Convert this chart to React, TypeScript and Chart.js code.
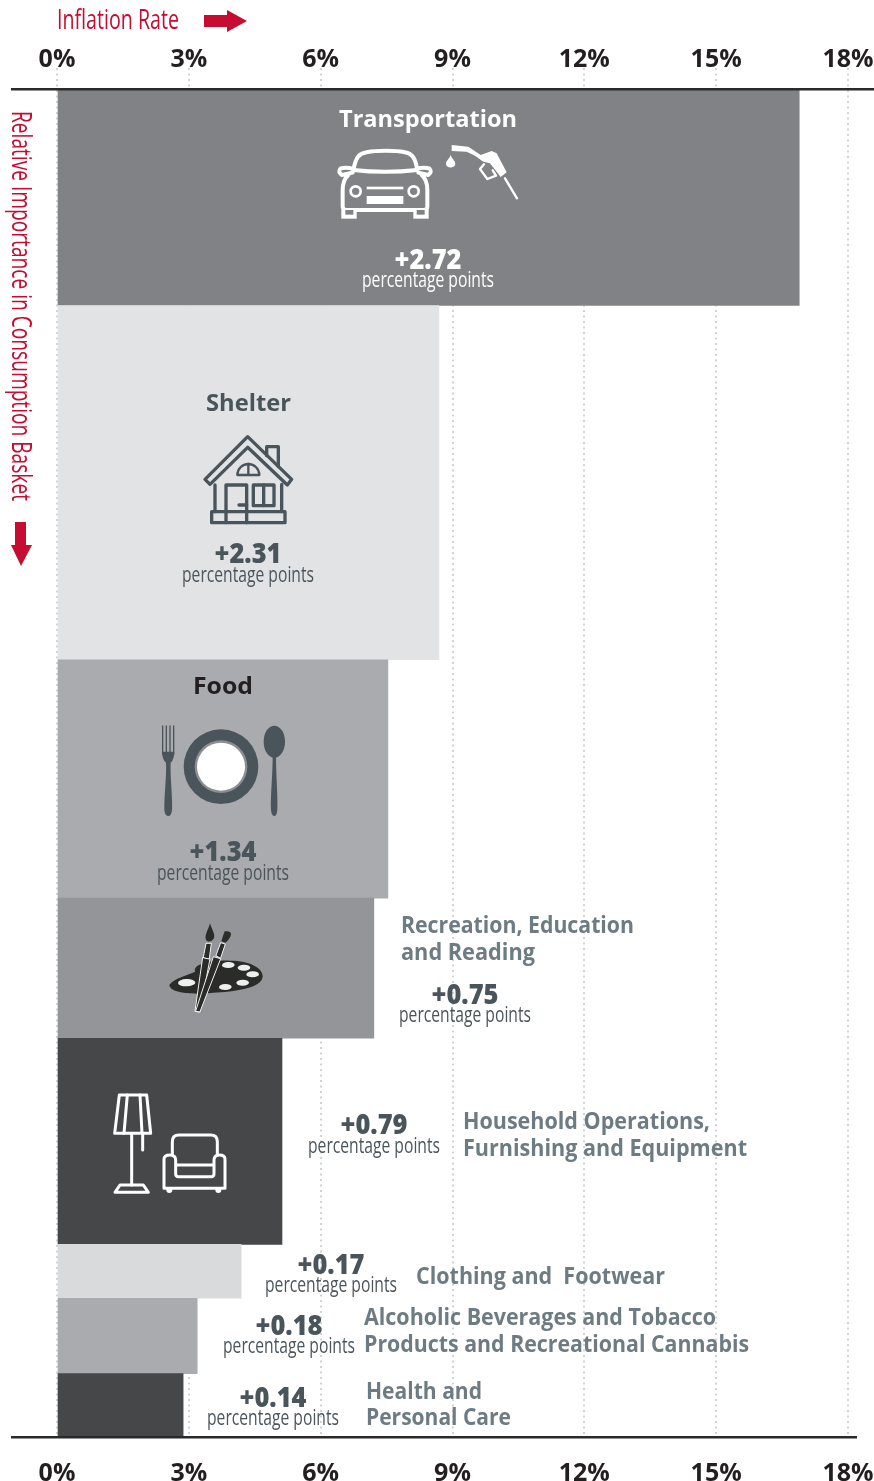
import React, { useEffect, useRef } from "react";
import { Chart, registerables } from "chart.js";

Chart.register(...registerables);

// ---- data ----
const categories = ["Transportation", "Shelter", "Food", "Recreation, Education and Reading", "Household Operations, Furnishing and Equipment", "Clothing and  Footwear", "Alcoholic Beverages and Tobacco Products and Recreational Cannabis", "Health and Personal Care"];
const inflationRates = [16.89, 8.69, 7.53, 7.21, 5.12, 4.19, 3.19, 2.87];
const basketWeights = [16.0, 26.3, 17.7, 10.4, 15.3, 4.0, 5.6, 4.7];
const contributions = [2.72, 2.31, 1.34, 0.75, 0.79, 0.17, 0.18, 0.14];
const xTicks = [0, 3, 6, 9, 12, 15, 18];
const UNIT = "percentage points";
const X_TITLE = "Inflation Rate";
const Y_TITLE = "Relative Importance in Consumption Basket";

// ---- styling / layout ----
const barColors = ["#808285", "#e1e3e5", "#a9abae", "#939598", "#464749", "#d9dadb", "#a9abae", "#464749"];
const RED = "#c60c30";
const SLATE = "#4a555b";
const GREY_TEXT = "#6d7b83";
const INK = "#231f20";
const SANS = '"Open Sans"';

const valueLayout = [
  { cx: 428, ny: 269, py: 287, nc: "#ffffff", pc: "#ffffff" },
  { cx: 248, ny: 563, py: 582, nc: SLATE, pc: SLATE },
  { cx: 223, ny: 861, py: 880, nc: SLATE, pc: SLATE },
  { cx: 465, ny: 1004, py: 1022, nc: SLATE, pc: SLATE },
  { cx: 374, ny: 1134, py: 1153, nc: SLATE, pc: SLATE },
  { cx: 331, ny: 1274, py: 1292, nc: SLATE, pc: SLATE },
  { cx: 289, ny: 1335, py: 1353, nc: SLATE, pc: SLATE },
  { cx: 273, ny: 1407, py: 1425, nc: SLATE, pc: SLATE },
];
const titleLines = [
  { t: "Transportation", x: 339, y: 127, w: 178, c: "#ffffff" },
  { t: "Shelter", x: 206, y: 411, w: 85, c: SLATE },
  { t: "Food", x: 193, y: 694, w: 60, c: INK },
  { t: "Recreation, Education", x: 401, y: 933, w: 233, c: GREY_TEXT },
  { t: "and Reading", x: 401, y: 960, w: 134, c: GREY_TEXT },
  { t: "Household Operations,", x: 463, y: 1129, w: 247, c: GREY_TEXT },
  { t: "Furnishing and Equipment", x: 463, y: 1156, w: 284, c: GREY_TEXT },
  { t: "Clothing and  Footwear", x: 416, y: 1284, w: 249, c: GREY_TEXT },
  { t: "Alcoholic Beverages and Tobacco", x: 364, y: 1325, w: 352, c: GREY_TEXT },
  { t: "Products and Recreational Cannabis", x: 364, y: 1352, w: 385, c: GREY_TEXT },
  { t: "Health and", x: 366, y: 1399, w: 116, c: GREY_TEXT },
  { t: "Personal Care", x: 366, y: 1425, w: 145, c: GREY_TEXT },
];

function squeezed(ctx: any, text: string, x: number, y: number, w: number, font: string, color: string) {
  ctx.save();
  ctx.font = font;
  ctx.fillStyle = color;
  ctx.textAlign = "left";
  ctx.textBaseline = "alphabetic";
  const m = ctx.measureText(text).width;
  ctx.translate(x, y);
  ctx.scale(w / m, 1);
  ctx.fillText(text, 0, 0);
  ctx.restore();
}

function poly(ctx: any, pts: number[][], close = true) {
  ctx.beginPath();
  pts.forEach((p, i) => (i ? ctx.lineTo(p[0], p[1]) : ctx.moveTo(p[0], p[1])));
  if (close) ctx.closePath();
}

function icon(ctx: any, ox: number, oy: number, color: string, lw: number, draw: () => void) {
  ctx.save();
  ctx.translate(ox, oy);
  ctx.scale(1 / 3, 1 / 3);
  ctx.strokeStyle = color;
  ctx.fillStyle = color;
  ctx.lineWidth = lw;
  ctx.lineJoin = "round";
  ctx.lineCap = "round";
  draw();
  ctx.restore();
}

function drawCar(ctx: any) {
  icon(ctx, 320, 95, "#ffffff", 12, () => {
    ctx.beginPath();
    ctx.moveTo(100, 225);
    ctx.bezierCurveTo(108, 185, 118, 175, 140, 172);
    ctx.bezierCurveTo(170, 166, 225, 166, 255, 172);
    ctx.bezierCurveTo(275, 175, 285, 185, 292, 225);
    ctx.quadraticCurveTo(195, 236, 100, 225);
    ctx.stroke();
    ctx.beginPath();
    ctx.moveTo(98, 233);
    ctx.lineTo(65, 240);
    ctx.quadraticCurveTo(52, 230, 62, 220);
    ctx.quadraticCurveTo(80, 215, 100, 222);
    ctx.moveTo(295, 233);
    ctx.lineTo(325, 240);
    ctx.quadraticCurveTo(338, 230, 328, 220);
    ctx.quadraticCurveTo(310, 215, 290, 222);
    ctx.moveTo(85, 240);
    ctx.quadraticCurveTo(68, 255, 68, 285);
    ctx.lineTo(68, 335);
    ctx.quadraticCurveTo(68, 345, 80, 345);
    ctx.lineTo(310, 345);
    ctx.quadraticCurveTo(322, 345, 322, 335);
    ctx.lineTo(322, 285);
    ctx.quadraticCurveTo(322, 255, 305, 240);
    ctx.stroke();
    ctx.fillRect(64, 345, 46, 26);
    ctx.fillRect(280, 345, 46, 26);
    ctx.fillStyle = "#808285";
    ctx.fillRect(76, 345, 24, 14);
    ctx.fillRect(290, 345, 24, 14);
    ctx.fillStyle = "#ffffff";
    ctx.lineWidth = 8;
    ctx.beginPath();
    ctx.arc(107, 289, 15, 0, Math.PI * 2);
    ctx.stroke();
    ctx.beginPath();
    ctx.arc(281, 289, 15, 0, Math.PI * 2);
    ctx.stroke();
    ctx.fillRect(140, 275, 110, 8);
    ctx.fillRect(140, 303, 110, 24);
  });
}

function drawNozzle(ctx: any) {
  icon(ctx, 320, 95, "#ffffff", 7, () => {
    poly(ctx, [[395, 150], [445, 155], [482, 180], [515, 168], [530, 175], [560, 232], [542, 246], [510, 205], [490, 200], [465, 182], [440, 170], [395, 168]]);
    ctx.fill();
    poly(ctx, [[492, 208], [480, 222], [502, 252], [528, 242], [518, 226]], false);
    ctx.stroke();
    poly(ctx, [[555, 250], [591, 310]], false);
    ctx.stroke();
    ctx.beginPath();
    ctx.moveTo(392, 180);
    ctx.bezierCurveTo(388, 192, 378, 198, 378, 206);
    ctx.bezierCurveTo(378, 221, 406, 221, 406, 206);
    ctx.bezierCurveTo(406, 198, 396, 192, 392, 180);
    ctx.fill();
  });
}

function drawHouse(ctx: any) {
  icon(ctx, 170, 385, SLATE, 10, () => {
    poly(ctx, [[105, 283], [233, 155], [365, 283], [352, 300], [233, 187], [120, 298]]);
    ctx.stroke();
    poly(ctx, [[290, 212], [290, 185], [325, 185], [325, 245]], false);
    ctx.stroke();
    poly(ctx, [[135, 300], [135, 380]], false);
    ctx.stroke();
    poly(ctx, [[335, 298], [335, 380]], false);
    ctx.stroke();
    poly(ctx, [[125, 380], [345, 380], [345, 413], [125, 413]]);
    ctx.stroke();
    poly(ctx, [[168, 413], [168, 300], [230, 300], [230, 413]], false);
    ctx.stroke();
    poly(ctx, [[207, 360], [230, 360]], false);
    ctx.stroke();
    poly(ctx, [[250, 300], [312, 300], [312, 362], [250, 362]]);
    ctx.stroke();
    poly(ctx, [[281, 300], [281, 362]], false);
    ctx.stroke();
    ctx.lineWidth = 7;
    ctx.beginPath();
    ctx.arc(235, 270, 33, Math.PI, 0);
    ctx.closePath();
    ctx.stroke();
    poly(ctx, [[235, 237], [235, 270]], false);
    ctx.stroke();
  });
}

function drawTableware(ctx: any) {
  icon(ctx, 140, 670, SLATE, 4, () => {
    ctx.beginPath();
    ctx.arc(243, 290, 112, 0, Math.PI * 2);
    ctx.fill();
    ctx.fillStyle = "#8c8e91";
    ctx.beginPath();
    ctx.arc(243, 290, 79, 0, Math.PI * 2);
    ctx.fill();
    ctx.fillStyle = "#ffffff";
    ctx.beginPath();
    ctx.arc(243, 290, 72, 0, Math.PI * 2);
    ctx.fill();
    ctx.fillStyle = SLATE;
    // fork
    [68, 79, 90, 101].forEach((x) => {
      poly(ctx, [[x, 168], [x, 252]], false);
      ctx.stroke();
    });
    ctx.beginPath();
    ctx.moveTo(66, 245);
    ctx.lineTo(103, 245);
    ctx.quadraticCurveTo(103, 268, 92, 278);
    ctx.bezierCurveTo(90, 320, 98, 380, 96, 420);
    ctx.quadraticCurveTo(94, 438, 85, 438);
    ctx.quadraticCurveTo(75, 438, 73, 420);
    ctx.bezierCurveTo(72, 380, 80, 320, 78, 278);
    ctx.quadraticCurveTo(66, 268, 66, 245);
    ctx.fill();
    // spoon
    ctx.beginPath();
    ctx.ellipse(403, 215, 32, 48, 0, 0, Math.PI * 2);
    ctx.fill();
    ctx.beginPath();
    ctx.moveTo(398, 255);
    ctx.lineTo(408, 255);
    ctx.bezierCurveTo(408, 320, 414, 380, 412, 420);
    ctx.quadraticCurveTo(410, 438, 403, 438);
    ctx.quadraticCurveTo(395, 438, 393, 420);
    ctx.bezierCurveTo(391, 380, 398, 320, 398, 255);
    ctx.fill();
  });
}

function drawPalette(ctx: any) {
  icon(ctx, 150, 910, "#2b2b29", 3, () => {
    ctx.beginPath();
    ctx.moveTo(58, 225);
    ctx.bezierCurveTo(70, 205, 115, 195, 135, 185);
    ctx.bezierCurveTo(128, 160, 190, 150, 240, 152);
    ctx.bezierCurveTo(300, 152, 340, 175, 338, 200);
    ctx.bezierCurveTo(335, 235, 250, 245, 190, 248);
    ctx.bezierCurveTo(130, 255, 60, 250, 58, 225);
    ctx.fill();
    ctx.fillStyle = "#eef0f0";
    [[110, 218, 26, 11], [235, 165, 19, 9], [282, 173, 19, 9], [308, 193, 19, 9], [278, 218, 19, 9], [226, 231, 19, 9]].forEach((e) => {
      ctx.beginPath();
      ctx.ellipse(e[0], e[1], e[2], e[3], -0.03, 0, Math.PI * 2);
      ctx.fill();
    });
    ctx.fillStyle = "#2b2b29";
    ctx.strokeStyle = "#f2f2f2";
    poly(ctx, [[135, 303], [158, 142], [180, 146], [150, 305]]);
    ctx.fill();
    ctx.stroke();
    poly(ctx, [[137, 303], [190, 140], [212, 146], [150, 305]]);
    ctx.fill();
    ctx.stroke();
    poly(ctx, [[160, 142], [168, 100], [184, 100], [178, 146]]);
    ctx.fill();
    ctx.stroke();
    poly(ctx, [[198, 136], [212, 98], [226, 102], [212, 144]]);
    ctx.fill();
    ctx.stroke();
    ctx.beginPath();
    ctx.moveTo(180, 40);
    ctx.bezierCurveTo(186, 60, 196, 72, 192, 85);
    ctx.quadraticCurveTo(182, 100, 170, 92);
    ctx.bezierCurveTo(160, 80, 175, 60, 180, 40);
    ctx.fill();
    ctx.beginPath();
    ctx.moveTo(224, 64);
    ctx.quadraticCurveTo(244, 62, 243, 74);
    ctx.quadraticCurveTo(238, 90, 226, 98);
    ctx.lineTo(214, 94);
    ctx.quadraticCurveTo(218, 80, 224, 64);
    ctx.fill();
  });
}

function drawFurniture(ctx: any) {
  icon(ctx, 90, 1080, "#ffffff", 9, () => {
    poly(ctx, [[88, 45], [170, 45], [182, 160], [74, 160]]);
    ctx.stroke();
    poly(ctx, [[112, 45], [102, 160]], false);
    ctx.stroke();
    poly(ctx, [[150, 45], [156, 160]], false);
    ctx.stroke();
    poly(ctx, [[125, 160], [125, 315]], false);
    ctx.stroke();
    poly(ctx, [[158, 160], [158, 210]], false);
    ctx.stroke();
    poly(ctx, [[90, 315], [160, 315], [175, 337], [75, 337]]);
    ctx.stroke();
    ctx.beginPath();
    ctx.moveTo(247, 225);
    ctx.lineTo(247, 185);
    ctx.quadraticCurveTo(247, 165, 267, 165);
    ctx.lineTo(362, 165);
    ctx.quadraticCurveTo(382, 165, 382, 185);
    ctx.lineTo(382, 225);
    ctx.stroke();
    ctx.beginPath();
    ctx.moveTo(222, 325);
    ctx.lineTo(222, 238);
    ctx.quadraticCurveTo(222, 225, 240, 225);
    ctx.quadraticCurveTo(257, 225, 257, 240);
    ctx.lineTo(257, 282);
    ctx.quadraticCurveTo(257, 290, 265, 290);
    ctx.lineTo(364, 290);
    ctx.quadraticCurveTo(372, 290, 372, 282);
    ctx.lineTo(372, 240);
    ctx.quadraticCurveTo(372, 225, 388, 225);
    ctx.quadraticCurveTo(405, 225, 405, 238);
    ctx.lineTo(405, 325);
    ctx.lineTo(222, 325);
    ctx.moveTo(257, 255);
    ctx.lineTo(372, 255);
    ctx.stroke();
    ctx.beginPath();
    ctx.arc(238, 330, 9, 0, Math.PI * 2);
    ctx.arc(385, 330, 9, 0, Math.PI * 2);
    ctx.fill();
  });
}

const decorations = {
  id: "decorations",
  afterDatasetsUpdate(chart: any) {
    // bar thickness along y = the category's basket weight, read through the y scale
    const y = chart.scales.y;
    const meta = chart.getDatasetMeta(0);
    let start = 0;
    basketWeights.forEach((w, i) => {
      const top = y.getPixelForValue(start);
      const bottom = y.getPixelForValue(start + w);
      meta.data[i].height = bottom - top;
      meta.data[i].y = (top + bottom) / 2;
      start += w;
    });
  },
  afterDatasetsDraw(chart: any) {
    const ctx = chart.ctx;
    const { top, bottom } = chart.chartArea;
    ctx.save();
    // axis rules
    ctx.fillStyle = "#2b2a2b";
    ctx.fillRect(11, top - 2, 863, 2.5);
    ctx.fillRect(11, bottom - 1, 846, 2.5);

    // axis titles
    squeezed(ctx, X_TITLE, 57, 29, 122, `500 28px ${SANS}`, RED);
    ctx.fillStyle = RED;
    poly(ctx, [[204, 15], [227, 15], [227, 10], [247, 21], [227, 32], [227, 27], [204, 27]]);
    ctx.fill();
    ctx.save();
    ctx.translate(12, 111);
    ctx.rotate(Math.PI / 2);
    squeezed(ctx, Y_TITLE, 0, 0, 390, `500 27px ${SANS}`, RED);
    ctx.restore();
    ctx.fillStyle = RED;
    poly(ctx, [[15, 522], [26, 522], [26, 545], [32, 545], [21, 566], [11, 545], [15, 545]]);
    ctx.fill();

    // labels
    titleLines.forEach((l) => squeezed(ctx, l.t, l.x, l.y, l.w, `700 23px ${SANS}`, l.c));
    contributions.forEach((c, i) => {
      const v = valueLayout[i];
      squeezed(ctx, `+${c.toFixed(2)}`, v.cx - 33.5, v.ny, 67, `800 28px ${SANS}`, v.nc);
      squeezed(ctx, UNIT, v.cx - 66, v.py, 132, `400 21px ${SANS}`, v.pc);
    });

    // icons
    drawCar(ctx);
    drawNozzle(ctx);
    drawHouse(ctx);
    drawTableware(ctx);
    drawPalette(ctx);
    drawFurniture(ctx);
    ctx.restore();
  },
};

export default function App() {
  const ref = useRef<HTMLCanvasElement | null>(null);
  useEffect(() => {
    document.body.style.margin = "0";
    let start = 0;
    const points = inflationRates.map((rate, i) => {
      const p = { x: rate, y: start + basketWeights[i] / 2 };
      start += basketWeights[i];
      return p;
    });
    const tickFont = { family: SANS, size: 25, weight: "bold" as const };
    const chart = new Chart(ref.current as HTMLCanvasElement, {
      type: "bar",
      data: {
        labels: categories,
        datasets: [
          {
            label: "Inflation rate",
            data: points,
            backgroundColor: barColors,
            borderWidth: 0,
            barThickness: 1,
            grouped: false,
            xAxisID: "x",
            yAxisID: "y",
          } as any,
        ],
      },
      options: {
        indexAxis: "y",
        animation: false,
        responsive: false,
        layout: { padding: { left: 57, right: 26, top: 0, bottom: 0 } },
        plugins: { legend: { display: false }, tooltip: { enabled: false } },
        scales: {
          x: {
            type: "linear",
            position: "top",
            min: 0,
            max: 18,
            afterBuildTicks: (s: any) => {
              s.ticks = xTicks.map((value) => ({ value }));
            },
            afterFit: (s: any) => {
              s.height = 90;
              s.paddingLeft = 0;
              s.paddingRight = 0;
            },
            border: { display: false, dash: [2, 3.5] },
            grid: {
              color: "#d1d3d4",
              lineWidth: 2,
              drawTicks: true,
              tickLength: 22,
              tickColor: "#d1d3d4",
              tickWidth: 2,
              tickBorderDash: [2, 3.5],
            },
            ticks: {
              color: INK,
              font: tickFont,
              padding: -7,
              maxRotation: 0,
              autoSkip: false,
              callback: (v: any) => `${v}%`,
            },
          },
          x2: {
            type: "linear",
            position: "bottom",
            min: 0,
            max: 18,
            afterBuildTicks: (s: any) => {
              s.ticks = xTicks.map((value) => ({ value }));
            },
            afterFit: (s: any) => {
              s.height = 44;
              s.paddingLeft = 0;
              s.paddingRight = 0;
            },
            border: { display: false },
            grid: { display: false, drawTicks: false },
            ticks: {
              color: INK,
              font: tickFont,
              padding: 22,
              maxRotation: 0,
              autoSkip: false,
              callback: (v: any) => `${v}%`,
            },
          },
          y: {
            type: "linear",
            display: false,
            reverse: true,
            offset: false,
            min: 0,
            max: 100,
          },
        },
      } as any,
      plugins: [decorations],
    });
    return () => chart.destroy();
  }, []);
  return <canvas ref={ref} width={874} height={1481} style={{ position: "absolute", left: 0, top: 0, display: "block", width: 874, height: 1481 }} />;
}
